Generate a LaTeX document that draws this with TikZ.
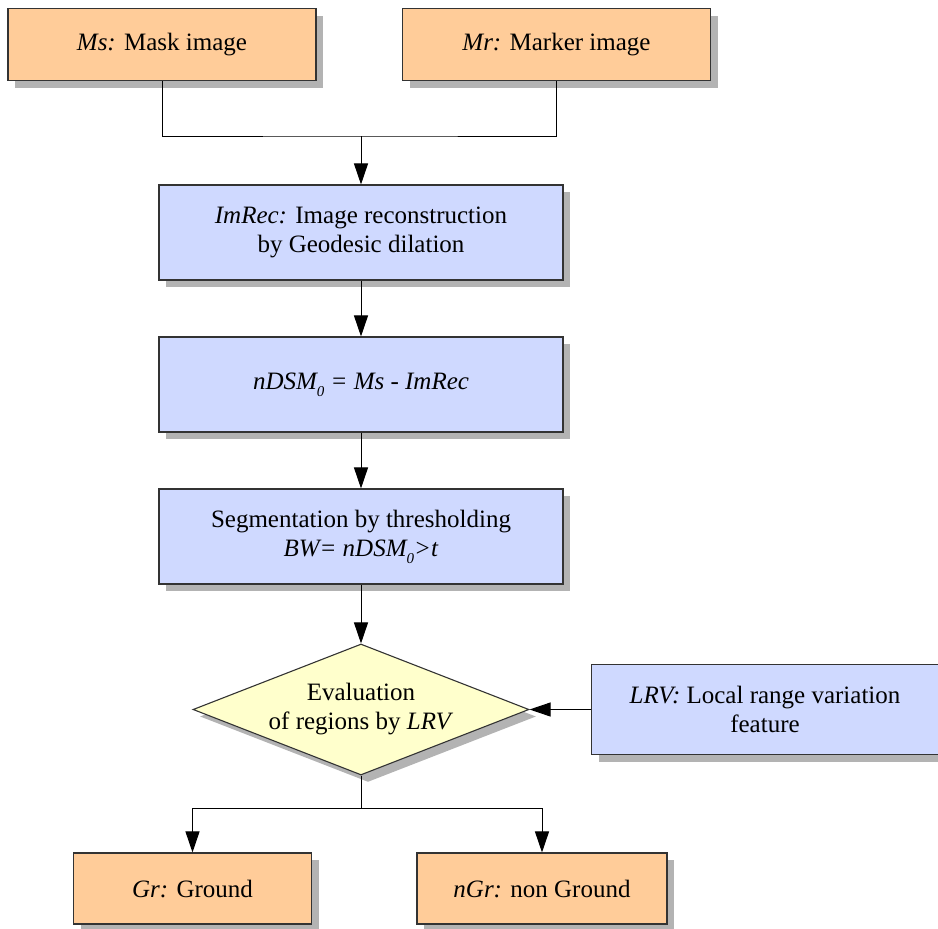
\documentclass[tikz,border=0pt]{standalone}
\usepackage{fontspec}
\setmainfont{Liberation Serif}
\usetikzlibrary{shapes.geometric,arrows.meta,shadows}
\definecolor{boxorange}{HTML}{FFCC99}
\definecolor{boxblue}{HTML}{CFD9FF}
\definecolor{boxyellow}{HTML}{FFFFCC}
\definecolor{shadowgray}{HTML}{B3B3B3}
\definecolor{edgegray}{HTML}{333333}
\newcommand{\zsub}[1]{\raisebox{-7pt}{\fontsize{15}{15}\selectfont\itshape #1}}
\tikzset{
  base/.style={draw=edgegray, line width=1.1pt, inner sep=0pt, align=center,
    font=\fontsize{25}{29}\selectfont,
    drop shadow={shadow xshift=7pt, shadow yshift=-7pt, fill=shadowgray, opacity=1}},
  obox/.style={base, rectangle, fill=boxorange},
  bbox/.style={base, rectangle, fill=boxblue},
  dbox/.style={base, diamond, fill=boxyellow, aspect=2.56},
  conn/.style={draw=black, line width=1pt},
  arr/.style={conn, -{Triangle[length=21pt,width=14pt]}}
}
\begin{document}
\begin{tikzpicture}[x=1pt,y=-1pt]
\useasboundingbox (0,0) rectangle (938,929);
\node[obox, minimum width=308pt, minimum height=72pt] (ms) at (162,44.5) {\textit{Ms:} Mask image};
\node[obox, minimum width=308pt, minimum height=72pt] (mr) at (556.5,44.5) {\textit{Mr:} Marker image};
\node[bbox, minimum width=404pt, minimum height=95pt] (imrec) at (361,232.5) {\textit{ImRec:} Image reconstruction\\by Geodesic dilation};
\node[bbox, minimum width=404pt, minimum height=95pt] (ndsm) at (361,384.5) {\textit{nDSM\zsub{0} = Ms - ImRec}};
\node[bbox, minimum width=404pt, minimum height=95pt] (seg) at (361,536.5) {Segmentation by thresholding\\\textit{BW= nDSM\zsub{0}>t}};
\node[dbox, minimum width=336pt, minimum height=131pt] (eval) at (361,709.5) {Evaluation\\of regions by \textit{LRV}};
\node[bbox, minimum width=347pt, minimum height=90pt] (lrv) at (765,709.5) {\textit{LRV:} Local range variation\\feature};
\node[obox, minimum width=238pt, minimum height=71pt] (gr) at (192.5,888.5) {\textit{Gr:} Ground};
\node[obox, minimum width=250pt, minimum height=71pt] (ngr) at (542,888.5) {\textit{nGr:} non Ground};
\coordinate (top) at (361,136);
\coordinate (bot) at (361,808);
\draw[conn] (ms.south) |- (top) -| (mr.south);
\draw[arr] (top) -- (imrec.north);
\draw[arr] (imrec.south) -- (ndsm.north);
\draw[arr] (ndsm.south) -- (seg.north);
\draw[arr] (seg.south) -- (eval.north);
\draw[arr] (lrv.west) -- (eval.east);
\draw[conn] (eval.south) -- (bot);
\draw[arr] (bot) -| (gr.north);
\draw[arr] (bot) -| (ngr.north);
\end{tikzpicture}
\end{document}
